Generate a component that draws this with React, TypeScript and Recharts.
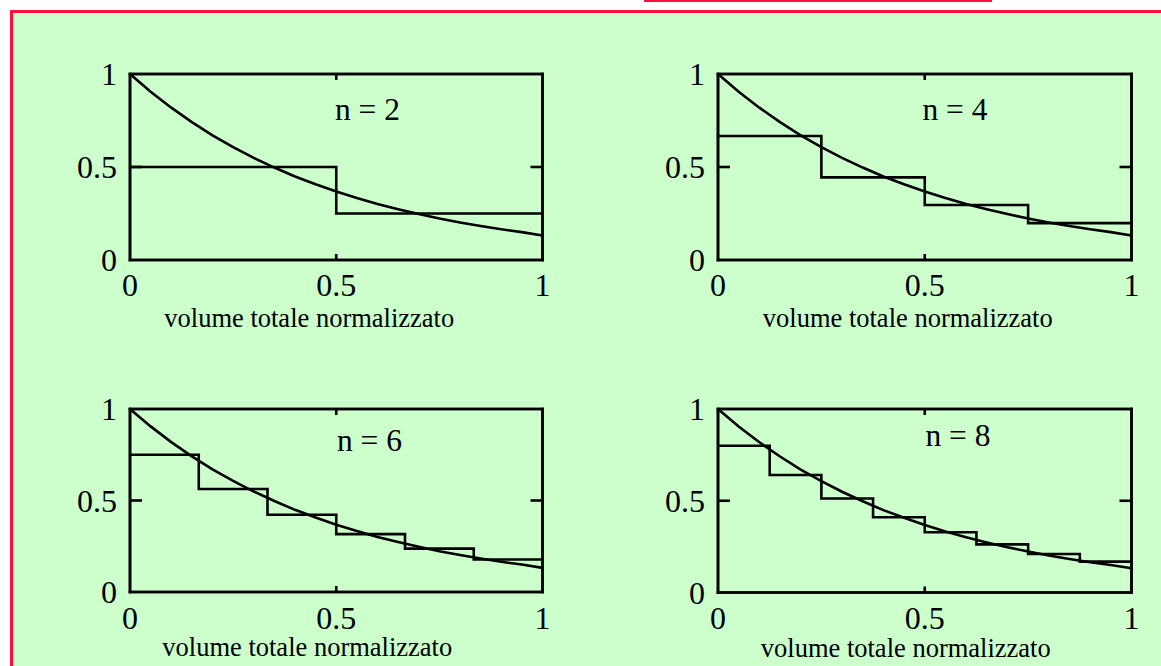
import React from 'react';
import { LineChart, Line, XAxis, YAxis, ReferenceArea } from 'recharts';

// ---- data ----
const xTicks = [0, 0.5, 1];
const yTicks = [0, 0.5, 1];
const innerTicks = [0.5];
const curveX = [0, 0.05, 0.1, 0.15, 0.2, 0.25, 0.3, 0.35, 0.4, 0.45, 0.5, 0.55, 0.6, 0.65, 0.7, 0.75, 0.8, 0.85, 0.9, 0.95, 1];
const curveY = [1.0, 0.905, 0.819, 0.741, 0.67, 0.607, 0.549, 0.497, 0.449, 0.407, 0.368, 0.333, 0.301, 0.273, 0.247, 0.223, 0.202, 0.183, 0.165, 0.15, 0.132];
const stepsN2 = [0.5, 0.25];
const stepsN4 = [0.667, 0.444, 0.296, 0.198];
const stepsN6 = [0.75, 0.563, 0.422, 0.316, 0.237, 0.178];
const stepsN8 = [0.8, 0.64, 0.512, 0.41, 0.328, 0.262, 0.21, 0.168];
const panelLabels = ['n = 2', 'n = 4', 'n = 6', 'n = 8'];
const xAxisTitle = 'volume totale normalizzato';

const FONT = '"Liberation Serif", "Times New Roman", Times, serif';
const RED = '#ff1040';
const GREEN = '#ccffcc';
const SW = 2.6;

const curveData = curveX.map((x, i) => ({ x, y: curveY[i] }));
const makeSteps = (steps: number[]) => {
  const n = steps.length;
  const pts = steps.map((v, k) => ({ x: k / n, y: v }));
  pts.push({ x: 1, y: steps[n - 1] });
  return pts;
};

const panels = [
  { steps: stepsN2, label: panelLabels[0], px: 130, py: 74, pw: 412.5, ph: 186, titleDx: -27, titleDy: 66.5, tickDy: 25, axisH: 80, nx: 367.5, ny: 109.5 },
  { steps: stepsN4, label: panelLabels[1], px: 718, py: 74, pw: 413.5, ph: 186, titleDx: -17, titleDy: 66.5, tickDy: 25, axisH: 80, nx: 955, ny: 109.5 },
  { steps: stepsN6, label: panelLabels[2], px: 130, py: 409, pw: 412.5, ph: 183, titleDx: -29, titleDy: 64, tickDy: 25.5, axisH: 70, nx: 369.5, ny: 441.3 },
  { steps: stepsN8, label: panelLabels[3], px: 718, py: 408.5, pw: 413.5, ph: 183.5, titleDx: -19, titleDy: 64, tickDy: 25.5, axisH: 70, nx: 958, ny: 436.3 },
];

const fmt = (v: number) => String(v);

const makeBottomTick = (dy: number) => (props: any) => {
  const { x, y, payload } = props;
  const v = payload.value;
  return (
    <g>
      {v > 0 && v < 1 && <line x1={x} y1={y} x2={x} y2={y - 6} stroke="#000" strokeWidth={SW} />}
      <text x={x} y={y + dy} textAnchor="middle" dominantBaseline="central" fontFamily={FONT} fontSize={32} fill="#000">
        {fmt(v)}
      </text>
    </g>
  );
};

const LeftTick = (props: any) => {
  const { x, y, payload } = props;
  const v = payload.value;
  return (
    <g>
      {v > 0 && v < 1 && <line x1={x} y1={y} x2={x + 12} y2={y} stroke="#000" strokeWidth={SW} />}
      <text x={x - 13} y={y} textAnchor="end" dominantBaseline="central" fontFamily={FONT} fontSize={32} fill="#000">
        {fmt(v)}
      </text>
    </g>
  );
};

const TopTick = (props: any) => {
  const { x, y } = props;
  return <line x1={x} y1={y} x2={x} y2={y + 6} stroke="#000" strokeWidth={SW} />;
};

const RightTick = (props: any) => {
  const { x, y } = props;
  return <line x1={x} y1={y} x2={x - 12} y2={y} stroke="#000" strokeWidth={SW} />;
};

const makeTitle = (dx: number, dy: number) => (props: any) => {
  const vb = props.viewBox || {};
  return (
    <text x={vb.x + vb.width / 2 + dx} y={vb.y + dy} textAnchor="middle" fontFamily={FONT} fontSize={26.5} fill="#000">
      {xAxisTitle}
    </text>
  );
};

const axisLineStyle = { stroke: '#000', strokeWidth: SW, strokeLinecap: 'square' as const };

function Panel({ p }: { p: (typeof panels)[number] }) {
  const yW = 70;
  const mTop = 19;
  const mRight = 19;
  const width = p.pw + yW + mRight + 1;
  const height = p.ph + mTop + 1 + p.axisH;
  return (
    <div style={{ position: 'absolute', left: p.px - yW, top: p.py - mTop - 1, width, height }}>
      <LineChart width={width} height={height} margin={{ top: mTop, right: mRight, bottom: 0, left: 0 }}>
        <XAxis
          xAxisId="b"
          dataKey="x"
          type="number"
          orientation="bottom"
          domain={[0, 1]}
          allowDataOverflow
          ticks={xTicks}
          interval={0}
          height={p.axisH}
          axisLine={axisLineStyle}
          tickLine={false}
          tickSize={0}
          tickMargin={0}
          tick={makeBottomTick(p.tickDy)}
          label={makeTitle(p.titleDx, p.titleDy)}
        />
        <XAxis
          xAxisId="t"
          dataKey="x"
          type="number"
          orientation="top"
          domain={[0, 1]}
          allowDataOverflow
          ticks={innerTicks}
          interval={0}
          height={1}
          axisLine={axisLineStyle}
          tickLine={false}
          tickSize={0}
          tickMargin={0}
          tick={TopTick}
        />
        <YAxis
          yAxisId="l"
          type="number"
          orientation="left"
          domain={[0, 1]}
          allowDataOverflow
          ticks={yTicks}
          interval={0}
          width={yW}
          axisLine={axisLineStyle}
          tickLine={false}
          tickSize={0}
          tickMargin={0}
          tick={LeftTick}
        />
        <YAxis
          yAxisId="r"
          type="number"
          orientation="right"
          domain={[0, 1]}
          allowDataOverflow
          ticks={innerTicks}
          interval={0}
          width={1}
          axisLine={axisLineStyle}
          tickLine={false}
          tickSize={0}
          tickMargin={0}
          tick={RightTick}
        />
        <ReferenceArea
          xAxisId="b"
          yAxisId="l"
          x1={0}
          x2={1}
          y1={0}
          y2={1}
          fill="none"
          fillOpacity={0}
          stroke="#000"
          strokeWidth={SW}
          ifOverflow="visible"
        />
        <Line
          xAxisId="t"
          yAxisId="r"
          data={makeSteps(p.steps)}
          dataKey="y"
          type="stepAfter"
          stroke="#000"
          strokeWidth={SW}
          dot={false}
          activeDot={false}
          isAnimationActive={false}
        />
        <Line
          xAxisId="b"
          yAxisId="l"
          data={curveData}
          dataKey="y"
          type="linear"
          stroke="#000"
          strokeWidth={SW}
          dot={false}
          activeDot={false}
          isAnimationActive={false}
        />
      </LineChart>
    </div>
  );
}

export default function App() {
  return (
    <div style={{ position: 'absolute', left: 0, top: 0, width: 1161, height: 666, overflow: 'hidden', background: '#fff' }}>
      <div style={{ position: 'absolute', left: 644, top: 0, width: 348, height: 2, background: RED }} />
      <div
        style={{
          position: 'absolute',
          left: 10,
          top: 10,
          width: 1161 - 13,
          height: 666 - 13,
          borderLeft: `3px solid ${RED}`,
          borderTop: `3px solid ${RED}`,
          background: GREEN,
        }}
      />
      {panels.map((p, i) => (
        <Panel key={i} p={p} />
      ))}
      {panels.map((p, i) => (
        <div
          key={'n' + i}
          style={{
            position: 'absolute',
            left: p.nx,
            top: p.ny,
            transform: 'translate(-50%, -50%)',
            fontFamily: FONT,
            fontSize: 31.5,
            lineHeight: 1,
            whiteSpace: 'nowrap',
            color: '#000',
          }}
        >
          {p.label}
        </div>
      ))}
    </div>
  );
}
